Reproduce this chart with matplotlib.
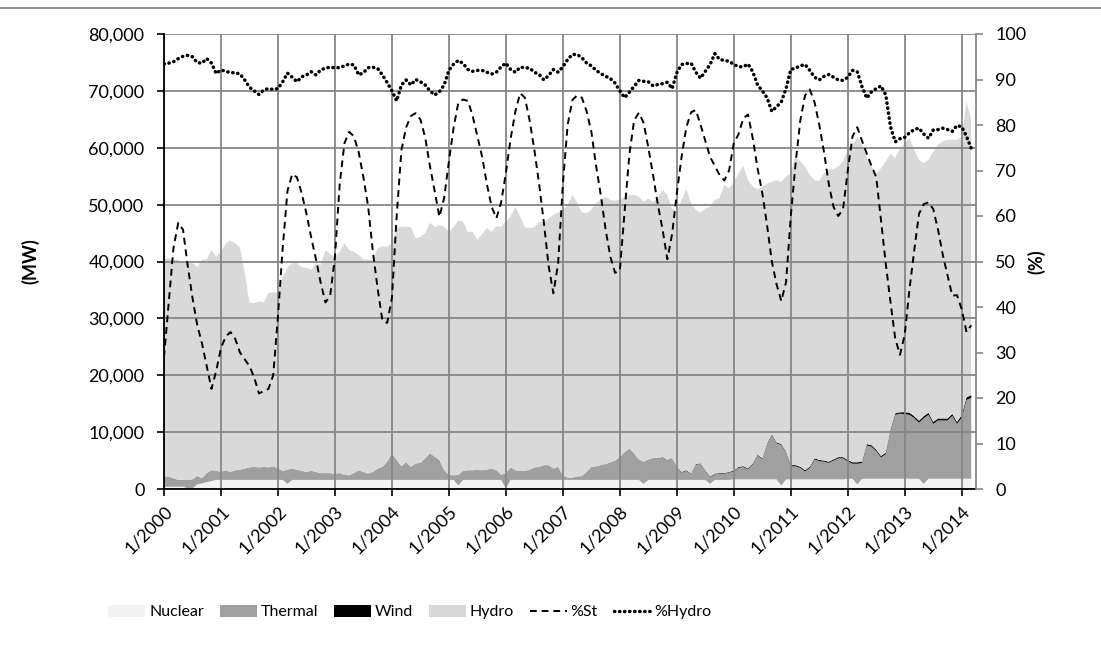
import numpy as np
import matplotlib
matplotlib.use("Agg")
import matplotlib.pyplot as plt
from matplotlib.patches import Patch
from matplotlib.lines import Line2D
from matplotlib.ticker import FuncFormatter

plt.rcParams['font.family'] = ['Lato', 'DejaVu Sans']

# ==========================================
# monthly data, 1/2000 .. 3/2014 (MW and %)
# ==========================================
year_labels = ['1/%d' % y for y in range(2000, 2015)]

nuclear = [
    400, 400, 400, 400, 400, 100, 100, 800, 1000, 1200, 1400, 1600,            # 2000
    1600, 1600, 1600, 1600, 1600, 1600, 1600, 1600, 1600, 1600, 1600, 1600,    # 2001
    1600, 1600, 900, 1600, 1600, 1600, 1600, 1600, 1600, 1600, 1600, 1600,     # 2002
    1600, 1600, 1600, 1600, 1600, 1600, 1600, 1600, 1600, 1600, 1600, 1600,    # 2003
    1600, 1600, 1600, 1600, 1600, 1600, 1600, 1600, 1600, 1600, 1600, 1600,    # 2004
    1600, 1600, 600, 1600, 1600, 1600, 1600, 1600, 1600, 1600, 1600, 1600,     # 2005
    100, 1600, 1600, 1600, 1600, 1600, 1600, 1600, 1600, 1600, 1600, 1600,     # 2006
    1600, 1600, 1600, 1600, 1600, 1600, 1600, 1600, 1600, 1600, 1600, 1600,    # 2007
    1600, 1600, 1600, 1600, 1600, 900, 1600, 1600, 1600, 1600, 1600, 1600,     # 2008
    1600, 1600, 1600, 1600, 1600, 1600, 1600, 900, 1600, 1600, 1600, 1600,     # 2009
    1700, 1700, 1700, 1700, 1700, 1700, 1700, 1700, 1700, 1700, 600, 1700,     # 2010
    1700, 1700, 1700, 1700, 1700, 1700, 1700, 1700, 1700, 1700, 1700, 1700,    # 2011
    1800, 1800, 800, 1800, 1800, 1800, 1800, 1800, 1800, 1800, 1800, 1800,     # 2012
    1800, 1800, 1800, 1800, 900, 1800, 1800, 1800, 1800, 1800, 1800, 1800,     # 2013
    1800, 1800, 1800,                                                          # 2014
]

thermal = [
    1800, 1800, 1500, 1200, 1200, 1500, 1600, 1500, 900, 1600, 1900, 1600,
    1400, 1700, 1400, 1700, 1800, 2000, 2200, 2300, 2200, 2300, 2200, 2400,
    2000, 1600, 2500, 2000, 1800, 1600, 1400, 1600, 1400, 1200, 1200, 1200,
    1100, 1200, 900, 800, 1200, 1700, 1400, 1100, 1400, 2000, 2300, 3200,
    4700, 3500, 2400, 3100, 2300, 2900, 3000, 3800, 4700, 4100, 3500, 1700,
    900, 800, 1900, 1600, 1700, 1700, 1800, 1700, 1800, 2000, 1700, 900,
    2700, 2200, 1700, 1600, 1600, 1800, 2200, 2300, 2600, 2600, 2000, 2300,
    800, 400, 400, 600, 700, 1400, 2300, 2400, 2600, 2800, 3100, 3400,
    4000, 4900, 5500, 4700, 3600, 3900, 3600, 3750, 3750, 3950, 3450, 3750,
    2200, 1300, 1600, 1000, 2700, 2800, 1600, 1200, 1000, 1100, 1100, 1300,
    1350, 2050, 2150, 1750, 2650, 4150, 3550, 6150, 7750, 6350, 7150, 4750,
    2300, 2300, 2000, 1400, 2000, 3500, 3200, 3100, 2900, 3300, 3700, 3700,
    3050, 2650, 3650, 2750, 5850, 5650, 4850, 3750, 4350, 8450, 11250, 11450,
    11350, 11250, 10650, 9850, 11550, 11250, 9650, 10250, 10250, 10250, 11050, 9650,
    10750, 13850, 14250,
]

wind = [0] * 103 + [60] * 5 + [100] * 12 + [150] * 12 + [200] * 12 + [250] * 12 + [350] * 12 + [450] * 3

hydro = [
    38100, 38400, 38500, 38600, 38300, 38300, 38000, 36700, 38400, 37600, 38700, 37600,
    38700, 39900, 40700, 39900, 39100, 34400, 29000, 28800, 29200, 28900, 30700, 30600,
    30900, 34100, 35500, 36100, 36300, 35800, 35900, 35300, 36700, 36600, 39200, 38500,
    38100, 38900, 40700, 39600, 38900, 37800, 37400, 37600, 37400, 38700, 38800, 37800,
    36900, 40800, 42100, 41400, 42100, 39600, 39700, 39600, 40500, 40400, 41300, 42800,
    42700, 43700, 44700, 43800, 41900, 41900, 40400, 41500, 42500, 41600, 42900, 43600,
    44200, 44100, 46300, 44700, 42800, 42500, 42200, 43100, 42600, 43400, 44600, 44700,
    46700, 47900, 49700, 48100, 46300, 45500, 45200, 46300, 46600, 47000, 46100, 45700,
    45300, 44900, 44600, 45400, 46200, 45700, 45900, 45100, 45700, 47000, 46600, 43900,
    44900, 47800, 49400, 47600, 44700, 44100, 46000, 47500, 48100, 48400, 50700, 49900,
    50800, 51600, 52800, 50700, 48700, 46700, 47800, 45700, 44400, 46100, 46100, 48400,
    51300, 54300, 53700, 53400, 51300, 48900, 49100, 50500, 51400, 51000, 51100, 52000,
    54500, 55800, 57200, 55700, 50500, 49000, 48600, 50600, 51200, 48400, 44900, 46400,
    47300, 48300, 46800, 45900, 44500, 44500, 47500, 48100, 48700, 49000, 48200, 49600,
    48900, 52000, 48400,
]

pct_st = [
    29, 41, 53, 58.5, 57, 49, 42, 36, 32, 27, 22, 26,
    31, 33.5, 34.5, 33, 30, 28.5, 27, 24.5, 21, 21.5, 22, 25,
    38, 53, 65.5, 69.2, 68.5, 65, 60.5, 55.3, 50.5, 45.3, 41, 42.5,
    51, 67, 76, 78.5, 77.5, 74, 68.5, 62, 52, 44, 37, 36.5,
    42, 60, 74.5, 79.5, 82, 82.6, 81.2, 77.3, 71, 65.5, 59.8, 64,
    72, 79.5, 85, 85.6, 85.3, 82, 77.5, 73, 67, 62, 59.5, 63,
    69.5, 77, 83, 87, 86, 81, 74.5, 67, 58.5, 49, 43, 49.6,
    67, 80, 85.5, 86.5, 86, 83, 78.5, 71, 64.5, 57, 51, 47.5,
    48, 61, 73.5, 81, 82.7, 80.5, 75, 69, 62.5, 57, 50.5, 56,
    65, 73, 79.5, 82.8, 83.3, 80, 76.5, 73, 71, 69, 67.8, 70,
    76, 78, 81.5, 82.3, 77, 70.5, 65, 58, 50, 45, 41.3, 45.5,
    60, 71.5, 81, 86.5, 87.8, 85, 80, 74, 67, 62, 60, 61.5,
    70, 77.5, 79.5, 76.5, 73.7, 71, 68.5, 59, 49.5, 41, 33, 29.5,
    34, 44, 52.5, 60.5, 62.6, 63, 61.5, 57, 51.5, 47, 42.5, 42.6,
    39.5, 34.5, 36,
]

pct_hydro = [
    93.4, 93.6, 93.9, 94.6, 95.1, 95.3, 95.0, 93.7, 93.6, 94.6, 93.6, 91.3,
    92.1, 91.8, 91.5, 91.5, 91.2, 89.9, 88.3, 87.5, 86.7, 87.7, 88.0, 87.8,
    88.0, 89.5, 91.4, 90.5, 89.5, 90.6, 91.0, 91.7, 91.0, 92.1, 92.5, 92.7,
    92.6, 92.6, 93.0, 93.4, 93.2, 91.0, 91.5, 92.6, 92.7, 92.4, 91.0, 89.3,
    87.5, 85.3, 88.8, 89.9, 88.8, 90.0, 89.5, 88.8, 87.5, 86.6, 87.3, 88.8,
    92.0, 93.4, 94.2, 93.5, 92.2, 91.8, 92.0, 92.0, 91.6, 91.2, 91.6, 92.8,
    93.6, 92.2, 91.6, 92.7, 92.6, 92.5, 91.6, 91.1, 89.9, 90.9, 92.2, 91.6,
    92.8, 94.4, 95.5, 95.5, 94.8, 93.6, 93.0, 92.0, 91.3, 90.7, 90.2, 89.2,
    87.5, 86.0, 87.2, 88.5, 89.8, 89.6, 89.5, 88.6, 88.9, 89.1, 89.4, 88.0,
    91.5, 93.3, 93.5, 93.6, 91.6, 90.3, 91.8, 93.3, 95.7, 94.4, 94.2, 94.0,
    93.3, 92.8, 92.8, 93.4, 91.7, 88.8, 87.5, 86.0, 83.0, 84.0, 85.1, 88.0,
    92.2, 92.5, 93.0, 93.3, 92.0, 90.5, 89.9, 90.7, 91.1, 90.5, 89.9, 89.8,
    90.5, 92.0, 91.7, 88.4, 85.9, 87.3, 88.0, 88.6, 86.6, 79.6, 76.3, 77.0,
    77.3, 78.3, 79.0, 79.3, 78.0, 77.1, 78.9, 79.0, 79.3, 79.0, 78.6, 79.9,
    79.6, 77.5, 74.9,
]

# ==========================================
# drawing
# ==========================================
C_NUC = '#f2f2f2'
C_THE = '#a0a0a0'
C_WIND = '#000000'
C_HYD = '#d9d9d9'
C_GRID = '#868686'
DASH = (0, (3.5, 2.5))
DOTS = (0, (0.1, 1.35))

months = np.arange(len(hydro))

fig = plt.figure(figsize=(11.01, 6.45), dpi=100)
ax = fig.add_axes([164 / 1101, 1 - 489 / 645, (976 - 164) / 1101, (489 - 34) / 645])

ax.stackplot(months, nuclear, thermal, wind, hydro,
             colors=[C_NUC, C_THE, C_WIND, C_HYD], linewidth=0)

ax.set_xlim(0, 171)
ax.set_ylim(0, 80000)
ax.set_yticks(np.arange(0, 80001, 10000))
ax.yaxis.set_major_formatter(FuncFormatter(lambda v, p: '{:,.0f}'.format(v)))
ax.set_xticks(np.arange(0, 169, 12))
ax.set_xticklabels(year_labels, rotation=45, ha='right', rotation_mode='anchor')
ax.tick_params(axis='both', labelsize=13, direction='out', length=5, width=1.2)
ax.tick_params(axis='y', pad=9)
ax.tick_params(axis='x', pad=5)
ax.grid(True, color=C_GRID, linewidth=1.3)
for gl in ax.get_xgridlines() + ax.get_ygridlines():
    gl.set_zorder(0.5)
for coll in ax.collections:
    coll.set_zorder(0.3)

ax.spines['left'].set_linewidth(1.3)
ax.spines['bottom'].set_linewidth(1.3)
ax.spines['top'].set_visible(False)
ax.spines['right'].set_visible(False)
ax.set_ylabel('(MW)', fontsize=13, fontweight='bold')
ax.yaxis.set_label_coords((39 - 164) / 812, 0.5)

ax2 = ax.twinx()
ax2.plot(months, pct_st, color='black', linestyle=DASH, linewidth=1.4)
ax2.plot(months, pct_hydro, color='black', linestyle=DOTS,
         linewidth=2.5, dash_capstyle='round')
ax2.set_ylim(0, 100)
ax2.set_yticks(np.arange(0, 101, 10))
ax2.tick_params(axis='y', labelsize=13, direction='out', length=5, width=1.2,
                color=C_GRID, pad=9)
for s in ['left', 'top', 'bottom']:
    ax2.spines[s].set_visible(False)
ax2.spines['right'].set_color(C_GRID)
ax2.spines['right'].set_linewidth(1.3)
ax2.set_ylabel('(%)', fontsize=13, fontweight='bold')
ax2.yaxis.set_label_coords((1027 - 164) / 812, 0.5)

handles = [
    Patch(facecolor=C_NUC, edgecolor='none', label='Nuclear'),
    Patch(facecolor=C_THE, edgecolor='none', label='Thermal'),
    Patch(facecolor=C_WIND, edgecolor='none', label='Wind'),
    Patch(facecolor=C_HYD, edgecolor='none', label='Hydro'),
    Line2D([], [], color='black', linestyle=DASH, linewidth=1.4, label='%St'),
    Line2D([], [], color='black', linestyle=DOTS, linewidth=2.5,
           dash_capstyle='round', label='%Hydro'),
]
fig.legend(handles=handles, loc='center', bbox_to_anchor=(410 / 1101, 1 - 612 / 645),
           ncol=6, frameon=False, fontsize=11.5, handlelength=2.3, handleheight=0.8,
           columnspacing=1.0, handletextpad=0.25)

# outer chart border line at the top
fig.add_artist(Line2D([0, 1], [1 - 8 / 645, 1 - 8 / 645], transform=fig.transFigure,
                      color=C_GRID, linewidth=1.3))

fig.savefig('out.png', dpi=100)
